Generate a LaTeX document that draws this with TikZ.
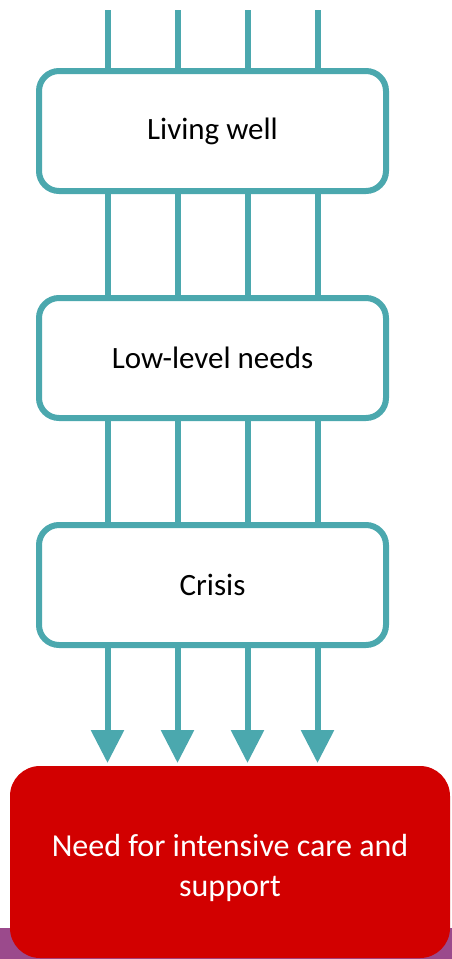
\documentclass[tikz,border=0pt]{standalone}
\usepackage{fontspec}
\setmainfont{Carlito}
\usetikzlibrary{arrows.meta,positioning}

\definecolor{flowteal}{HTML}{4BA8AE}
\definecolor{crisisred}{HTML}{D20000}
\definecolor{stripviolet}{HTML}{9B4A8C}

\begin{document}
\begin{tikzpicture}[x=1pt,y=-1pt,node distance=227pt,line width=6pt,
                    >={Triangle[width=32pt,length=33pt]}]

  \tikzstyle{stage} = [draw=flowteal, fill=white, rounded corners=20pt,
                       minimum width=347pt, minimum height=120pt,
                       font=\fontsize{31}{37}\selectfont]
  \tikzstyle{outcome} = [fill=crisisred, rounded corners=30pt, text=white,
                         minimum width=440pt, minimum height=192pt, align=center,
                         font=\fontsize{32}{40}\selectfont]

  \useasboundingbox (0,0) rectangle (452,959);
  \fill[stripviolet] (0,928) rectangle (452,959);

  \coordinate (T) at (212.5,10);
  \node[stage]   (A) at (212.5,131)  {Living well};
  \node[stage]   (B) [below of=A]    {Low-level needs};
  \node[stage]   (C) [below of=B]    {Crisis};
  \node[outcome] (D) at (230,862)    {\rule{0pt}{34pt}Need for intensive care and\\support};

  \foreach \dx in {-105,-35,35,105} {
    \draw[flowteal] ([xshift=\dx pt]T) -- ([xshift=\dx pt]A.north);
    \draw[flowteal] ([xshift=\dx pt]A.south) -- ([xshift=\dx pt]B.north);
    \draw[flowteal] ([xshift=\dx pt]B.south) -- ([xshift=\dx pt]C.north);
    \draw[flowteal,->] ([xshift=\dx pt]C.south) -- ([xshift=\dx pt]C.south |- D.north);
  }
\end{tikzpicture}
\end{document}
